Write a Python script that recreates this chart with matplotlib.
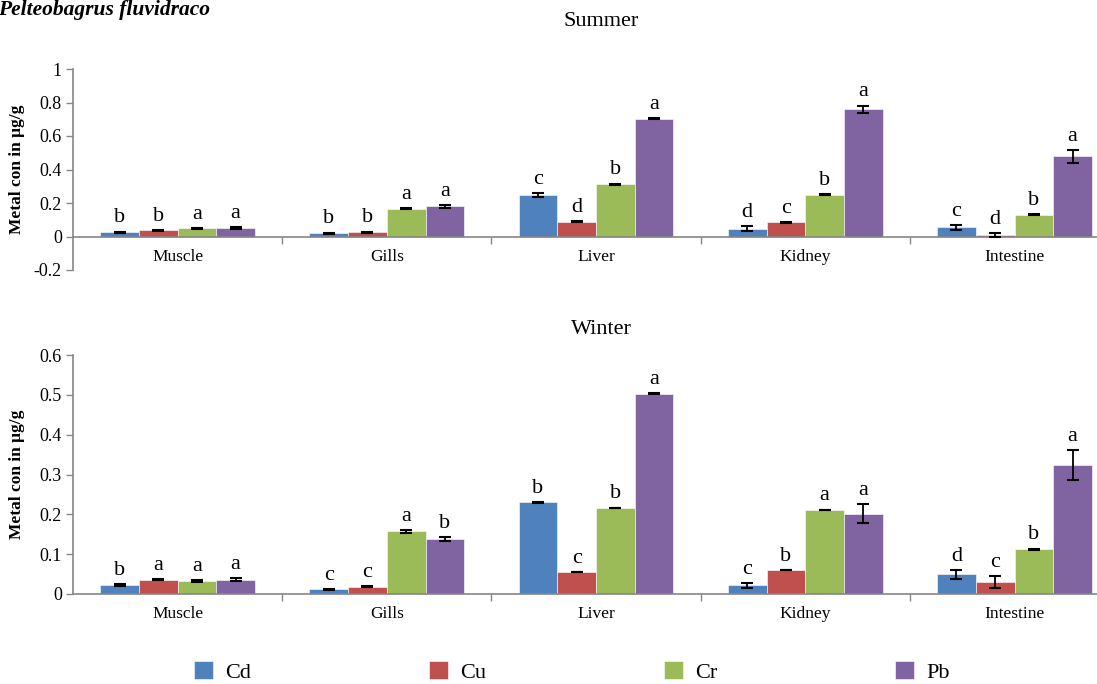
import numpy as np
import matplotlib
matplotlib.use("Agg")
import matplotlib.pyplot as plt
from matplotlib.ticker import FixedLocator, FuncFormatter
from matplotlib.patches import FancyBboxPatch
from matplotlib.legend_handler import HandlerPatch

# Data
organs = ["Muscle", "Gills", "Liver", "Kidney", "Intestine"]
metals = ["Cd", "Cu", "Cr", "Pb"]
colors = ["#4F81BD", "#C0504D", "#9BBB59", "#8064A2"]

summer_cd = [0.026, 0.020, 0.248, 0.046, 0.054]
summer_cu = [0.036, 0.026, 0.089, 0.085, 0.008]
summer_cr = [0.048, 0.166, 0.313, 0.250, 0.129]
summer_pb = [0.051, 0.180, 0.704, 0.760, 0.478]
summer_cd_err = [0.003, 0.003, 0.012, 0.016, 0.013]
summer_cu_err = [0.003, 0.003, 0.003, 0.003, 0.012]
summer_cr_err = [0.003, 0.003, 0.003, 0.003, 0.003]
summer_pb_err = [0.004, 0.007, 0.003, 0.022, 0.039]
summer_cd_sig = ["b", "b", "c", "d", "c"]
summer_cu_sig = ["b", "b", "d", "c", "d"]
summer_cr_sig = ["a", "a", "b", "b", "b"]
summer_pb_sig = ["a", "a", "a", "a", "a"]

winter_cd = [0.023, 0.012, 0.230, 0.022, 0.049]
winter_cu = [0.036, 0.018, 0.055, 0.060, 0.029]
winter_cr = [0.033, 0.157, 0.216, 0.211, 0.112]
winter_pb = [0.036, 0.138, 0.503, 0.201, 0.323]
winter_cd_err = [0.002, 0.001, 0.001, 0.006, 0.012]
winter_cu_err = [0.002, 0.001, 0.001, 0.001, 0.015]
winter_cr_err = [0.002, 0.003, 0.001, 0.001, 0.002]
winter_pb_err = [0.004, 0.004, 0.001, 0.024, 0.038]
winter_cd_sig = ["b", "c", "b", "c", "d"]
winter_cu_sig = ["a", "c", "c", "b", "c"]
winter_cr_sig = ["a", "a", "b", "a", "b"]
winter_pb_sig = ["a", "b", "a", "a", "a"]

summer_ticks = [-0.2, 0, 0.2, 0.4, 0.6, 0.8, 1]
winter_ticks = [0, 0.1, 0.2, 0.3, 0.4, 0.5, 0.6]

plt.rcParams['font.family'] = ['Liberation Serif', 'DejaVu Serif']
axis_grey = "#868686"

fig = plt.figure(figsize=(10.97, 6.84), dpi=100)
W, H = 1097, 684


def draw_panel(ax, means, errs, sigs, ticks):
    x = np.arange(len(organs))
    w = 0.185
    bars = []
    for i in range(len(metals)):
        pos = x + (i - 1.5) * w
        b = ax.bar(pos, means[i], w, color=colors[i], edgecolor="white",
                   linewidth=0.4, zorder=2, label=metals[i])
        bars.append(b)
        ax.errorbar(pos, means[i], yerr=errs[i], fmt="none", ecolor="black",
                    elinewidth=1.3, capsize=4, capthick=1.5, zorder=3)
        for px, m, e, s in zip(pos, means[i], errs[i], sigs[i]):
            ax.annotate(s, (px, m + e), xytext=(0, 3), textcoords="offset points",
                        ha="center", va="bottom", fontsize=16)

    ax.set_xlim(-0.5, -0.5 + (W - 73) / 207)
    ax.set_ylim(ticks[0], ticks[-1])
    ax.yaxis.set_major_locator(FixedLocator(ticks))
    ax.yaxis.set_major_formatter(FuncFormatter(lambda v, p: f"{v:g}"))
    ax.set_xticks(x)
    ax.set_xticklabels(organs)
    ax.set_xticks(x[:-1] + 0.5, minor=True)
    ax.tick_params(axis="x", which="major", length=0, pad=9, labelsize=12.5)
    ax.tick_params(axis="x", which="minor", length=5, color=axis_grey, width=1)
    ax.tick_params(axis="y", length=5, color=axis_grey, width=1, labelsize=13, pad=3)

    for side in ["top", "right"]:
        ax.spines[side].set_visible(False)
    for side in ["left", "bottom"]:
        ax.spines[side].set_color(axis_grey)
        ax.spines[side].set_linewidth(1.2)
    ax.spines["bottom"].set_position(("data", 0))
    ax.set_facecolor("none")

    ax.set_ylabel("Metal con in μg/g", fontsize=12.5, fontweight="bold")
    ax.yaxis.set_label_coords(-48 / 1035, 0.5)
    return bars


ax_top = fig.add_axes([73 / W, 1 - 270 / H, 1035 / W, 201 / H])
draw_panel(ax_top,
           [summer_cd, summer_cu, summer_cr, summer_pb],
           [summer_cd_err, summer_cu_err, summer_cr_err, summer_pb_err],
           [summer_cd_sig, summer_cu_sig, summer_cr_sig, summer_pb_sig],
           summer_ticks)

ax_bot = fig.add_axes([73 / W, 1 - 594 / H, 1035 / W, 239 / H])
bars = draw_panel(ax_bot,
                  [winter_cd, winter_cu, winter_cr, winter_pb],
                  [winter_cd_err, winter_cu_err, winter_cr_err, winter_pb_err],
                  [winter_cd_sig, winter_cu_sig, winter_cr_sig, winter_pb_sig],
                  winter_ticks)

fig.text(601 / W, 1 - 22 / H, "Summer", ha="center", va="center", fontsize=16)
fig.text(601 / W, 1 - 330 / H, "Winter", ha="center", va="center", fontsize=16)
fig.text(-2 / W, 1 - 10 / H, "Pelteobagrus fluvidraco", ha="left", va="center",
         fontsize=15.5, fontweight="bold", fontstyle="italic")


def rounded_box(legend, orig, xdescent, ydescent, width, height, fontsize):
    return FancyBboxPatch((-xdescent + 1, -ydescent - 1), width - 2, height + 2,
                          boxstyle="round,pad=0,rounding_size=4")


fig.legend(handles=bars, loc="center", bbox_to_anchor=(572 / W, 1 - 672 / H),
           ncol=4, frameon=False, fontsize=16, handlelength=0.85, handleheight=0.85,
           handletextpad=0.55, columnspacing=8.0,
           handler_map={type(bars[0].patches[0]): HandlerPatch(patch_func=rounded_box)})

fig.savefig("out.png", dpi=100)
